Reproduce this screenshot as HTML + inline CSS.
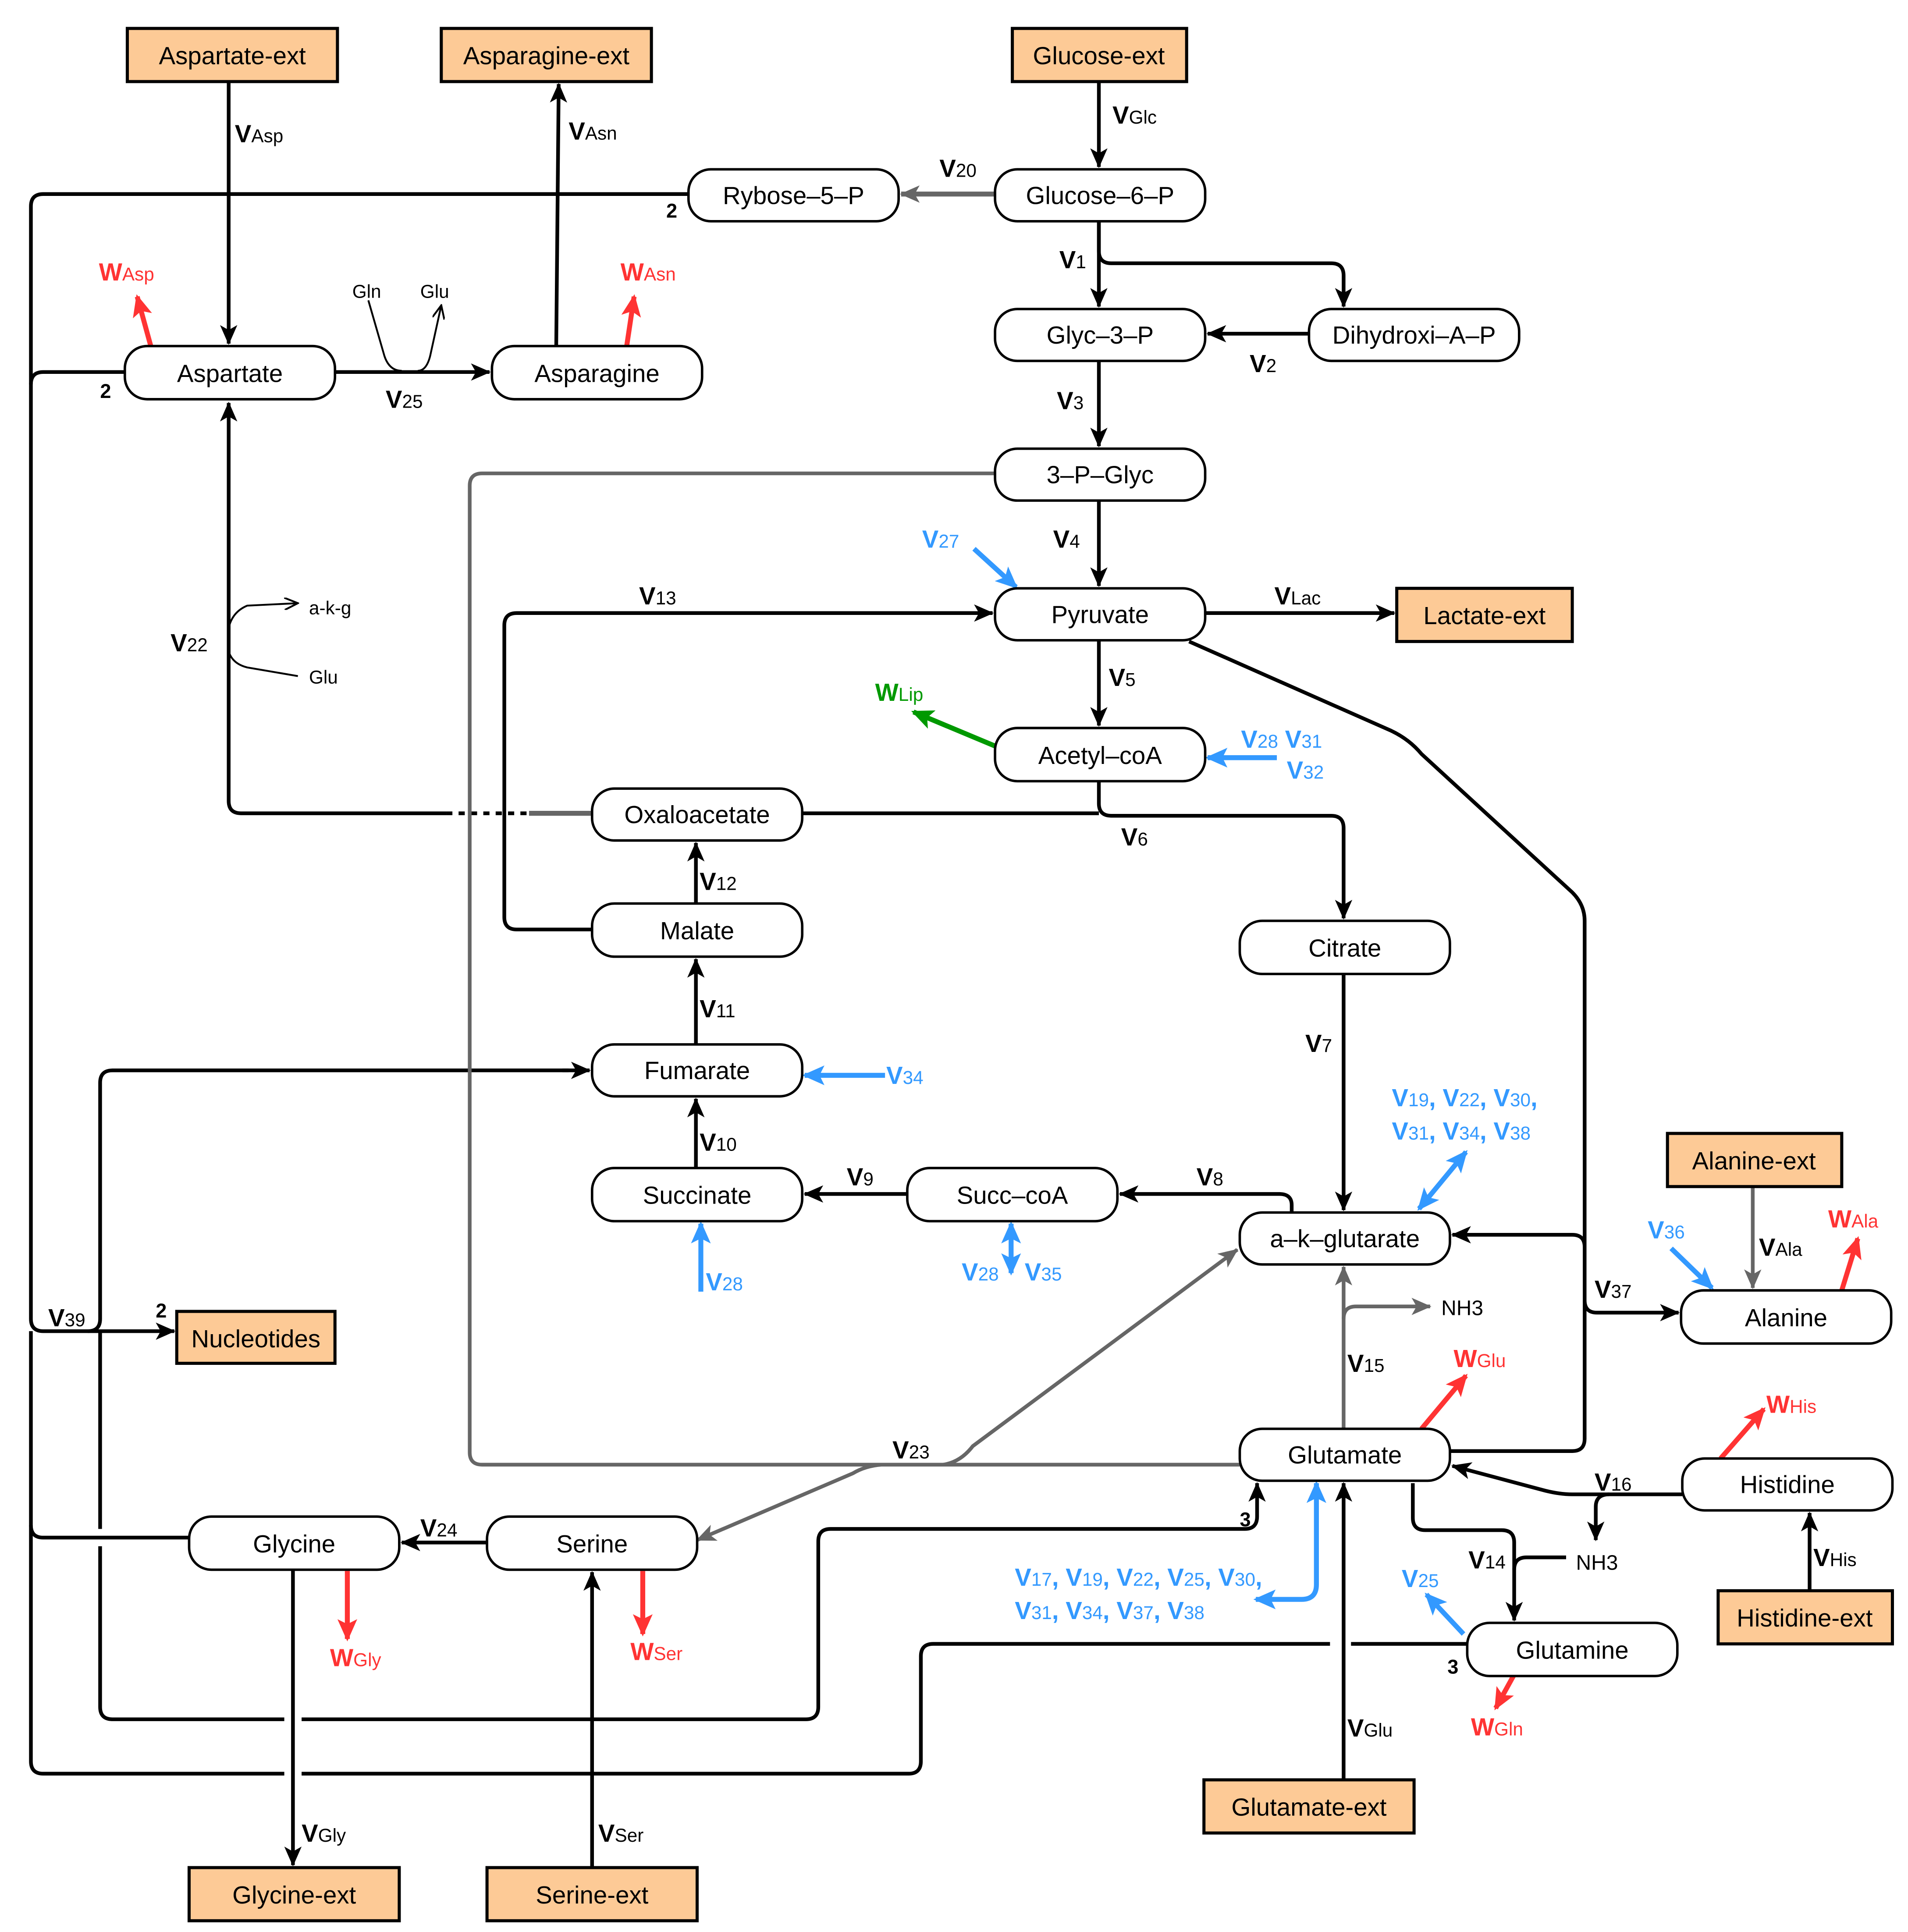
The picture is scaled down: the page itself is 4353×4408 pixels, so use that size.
<!DOCTYPE html>
<html><head><meta charset="utf-8"><style>
html,body{margin:0;padding:0;background:#fff}
svg{display:block}
text{font-family:"Liberation Sans",Arial,sans-serif}
.n{font-size:20px;text-anchor:middle}
.l{font-size:20px;font-weight:bold}
.s{font-size:15px;font-weight:normal}
.sm{font-size:15px}
</style></head><body>
<svg xmlns="http://www.w3.org/2000/svg" width="4353" height="4408" viewBox="0 0 1543.6 1563.1" preserveAspectRatio="none">
<defs>
<marker id="ak" markerUnits="userSpaceOnUse" markerWidth="16" markerHeight="14" refX="15" refY="7" orient="auto-start-reverse"><path d="M0,0 L16,7 L0,14 L4,7 z" fill="#000"/></marker>
<marker id="ag" markerUnits="userSpaceOnUse" markerWidth="16" markerHeight="14" refX="15" refY="7" orient="auto-start-reverse"><path d="M0,0 L16,7 L0,14 L4,7 z" fill="#666"/></marker>
<marker id="ab" markerUnits="userSpaceOnUse" markerWidth="18" markerHeight="16" refX="16" refY="8" orient="auto-start-reverse"><path d="M0,0 L18,8 L0,16 L4,8 z" fill="#3399ff"/></marker>
<marker id="ar" markerUnits="userSpaceOnUse" markerWidth="18" markerHeight="16" refX="16" refY="8" orient="auto-start-reverse"><path d="M0,0 L18,8 L0,16 L4,8 z" fill="#ff3333"/></marker>
<marker id="an" markerUnits="userSpaceOnUse" markerWidth="18" markerHeight="16" refX="16" refY="8" orient="auto-start-reverse"><path d="M0,0 L18,8 L0,16 L4,8 z" fill="#009900"/></marker>
<marker id="as" markerUnits="userSpaceOnUse" markerWidth="12" markerHeight="10" refX="11" refY="5" orient="auto"><path d="M0,0 L11,5 L0,10" fill="none" stroke="#000" stroke-width="1.5"/></marker>
</defs>

<g fill="none" stroke="#000" stroke-width="3">
<path d="M557,157 H35 Q25,157 25,167 V1067 Q25,1077 35,1077 H141" marker-end="url(#ak)"/>
<path d="M101,301 H35 Q25,301 25,311"/>
<path d="M25,1077 Q25,1087 25,1090 V1425 Q25,1435 35,1435 H230"/>
<path d="M244,1435 H735 Q745,1435 745,1425 V1340 Q745,1330 755,1330 H1076"/>
<path d="M1093,1330 H1187"/>
<path d="M153,1244 H35 Q25,1244 25,1234"/>
<path d="M460,866 H91 Q81,866 81,876 V1067 Q81,1077 71,1077"/>
<path d="M81,1077 Q81,1087 81,1090 V1237"/>
<path d="M81,1251 V1381 Q81,1391 91,1391 H230"/>
<path d="M244,1391 H652 Q662,1391 662,1381 V1247 Q662,1237 672,1237 H1007 Q1017,1237 1017,1227 V1200" marker-end="url(#ak)"/>
<path d="M455,866 H477" marker-end="url(#ak)"/>

<path d="M185,66 V278" marker-end="url(#ak)"/>
<path d="M450,280 L452,68" marker-end="url(#ak)"/>
<path d="M889,66 V135" marker-end="url(#ak)"/>
<path d="M889,179 V248" marker-end="url(#ak)"/>
<path d="M889,179 V203 Q889,213 899,213 H1077 Q1087,213 1087,223 V248" marker-end="url(#ak)"/>
<path d="M1059,270 H977" marker-end="url(#ak)"/>
<path d="M889,292 V361" marker-end="url(#ak)"/>
<path d="M889,405 V474" marker-end="url(#ak)"/>
<path d="M271,301 H396" marker-end="url(#ak)"/>
<path d="M479,752 H418 Q408,752 408,742 V506 Q408,496 418,496 H803" marker-end="url(#ak)"/>
<path d="M975,496 H1128" marker-end="url(#ak)"/>
<path d="M889,518 V587" marker-end="url(#ak)"/>
<path d="M962,519 L1125,591 Q1140,598 1150,610 L1272,722 Q1282,732 1282,745 V1164 Q1282,1174 1272,1174 H1173"/>
<path d="M1282,1009 Q1282,999 1272,999 H1175" marker-end="url(#ak)"/>
<path d="M1282,1052 Q1282,1062 1292,1062 H1358" marker-end="url(#ak)"/>
<path d="M889,632 V650 Q889,660 899,660 H1077 Q1087,660 1087,670 V743" marker-end="url(#ak)"/>
<path d="M649,658 H889"/>
<path d="M361,658 H195 Q185,658 185,648 V326" marker-end="url(#ak)"/>
<path d="M361,658 H428" stroke-dasharray="5,5"/>
<path d="M563,731 V682" marker-end="url(#ak)"/>
<path d="M563,845 V776" marker-end="url(#ak)"/>
<path d="M563,945 V889" marker-end="url(#ak)"/>
<path d="M734,966 H651" marker-end="url(#ak)"/>
<path d="M1045,981 V975 Q1045,966 1035,966 H906" marker-end="url(#ak)"/>
<path d="M1087,788 V979" marker-end="url(#ak)"/>
<path d="M1464,1287 V1224" marker-end="url(#ak)"/>
<path d="M1361,1209 H1272 Q1262,1209 1250,1206 L1175,1186" marker-end="url(#ak)"/>
<path d="M1302,1209 Q1291,1209 1291,1219 V1246" marker-end="url(#ak)"/>
<path d="M1143,1200 V1228 Q1143,1238 1153,1238 H1215 Q1225,1238 1225,1248 V1311" marker-end="url(#ak)"/>
<path d="M1267,1260 H1235 Q1225,1260 1225,1270"/>
<path d="M1087,1440 V1200" marker-end="url(#ak)"/>
<path d="M394,1248 H325" marker-end="url(#ak)"/>
<path d="M237,1270 V1509" marker-end="url(#ak)"/>
<path d="M479,1511 V1272" marker-end="url(#ak)"/>
</g>
<g fill="none" stroke="#000" stroke-width="1.5">
<path d="M298,243 L311,288 Q315,300 325,300"/>
<path d="M338,300 Q345,300 348,288 L357,247" marker-end="url(#as)"/>
<path d="M185,508 Q188,495 200,490 L241,488" marker-end="url(#as)"/>
<path d="M185,527 Q188,537 200,540 L241,547"/>
</g>

<g fill="none" stroke="#666" stroke-width="3">
<path d="M805,157 H729" stroke-width="4" marker-end="url(#ag)"/>
<path d="M805,383 H390 Q380,383 380,393 V1175 Q380,1185 390,1185 H1003"/>
<path d="M428,658 H479" stroke-width="4"/>
<path d="M763,1185 Q777,1183 787,1170 L1001,1011" marker-end="url(#ag)"/>
<path d="M713,1185 Q700,1186 690,1192 L564,1246" marker-end="url(#ag)"/>
<path d="M1087,1156 V1025" marker-end="url(#ag)"/>
<path d="M1087,1067 Q1087,1057 1097,1057 H1157" marker-end="url(#ag)"/>
<path d="M1418,960 V1042" marker-end="url(#ag)"/>
</g>

<g fill="none" stroke="#3399ff" stroke-width="4">
<path d="M788,444 L822,475" marker-end="url(#ab)"/>
<path d="M1033,613 H977" marker-end="url(#ab)"/>
<path d="M716,870 H651" marker-end="url(#ab)"/>
<path d="M567,1045 V990" marker-end="url(#ab)"/>
<path d="M818,990 V1030" marker-start="url(#ab)" marker-end="url(#ab)"/>
<path d="M1148,978 L1186,932" marker-start="url(#ab)" marker-end="url(#ab)"/>
<path d="M1065,1200 V1282 Q1065,1294 1053,1294 H1016" marker-start="url(#ab)" marker-end="url(#ab)"/>
<path d="M1184,1322 L1154,1290" marker-end="url(#ab)"/>
<path d="M1352,1010 L1385,1042" marker-end="url(#ab)"/>
</g>
<g fill="none" stroke="#ff3333" stroke-width="4">
<path d="M122,280 L111,240" marker-end="url(#ar)"/>
<path d="M507,280 L513,240" marker-end="url(#ar)"/>
<path d="M1150,1156 L1186,1113" marker-end="url(#ar)"/>
<path d="M1490,1044 L1503,1002" marker-end="url(#ar)"/>
<path d="M1392,1180 L1427,1140" marker-end="url(#ar)"/>
<path d="M1226,1353 L1210,1382" marker-end="url(#ar)"/>
<path d="M281,1271 V1326" marker-end="url(#ar)"/>
<path d="M520,1271 V1322" marker-end="url(#ar)"/>
</g>
<path d="M806,604 L739,576" fill="none" stroke="#009900" stroke-width="4" marker-end="url(#an)"/>

<g fill="#fdca96" stroke="#000" stroke-width="2.5">
<rect x="103" y="23" width="170" height="43"/>
<rect x="357" y="23" width="170" height="43"/>
<rect x="819" y="23" width="141" height="43"/>
<rect x="1130" y="476" width="142" height="43"/>
<rect x="1349" y="917" width="141" height="43"/>
<rect x="143" y="1061" width="128" height="42"/>
<rect x="1390" y="1287" width="141" height="43"/>
<rect x="974" y="1440" width="170" height="43"/>
<rect x="153" y="1511" width="170" height="43"/>
<rect x="394" y="1511" width="170" height="43"/>
</g>
<g fill="#fff" stroke="#000" stroke-width="2">
<rect x="557" y="137" width="170" height="42" rx="18"/>
<rect x="805" y="137" width="170" height="42" rx="18"/>
<rect x="805" y="250" width="170" height="42" rx="18"/>
<rect x="1059" y="250" width="170" height="42" rx="18"/>
<rect x="805" y="363" width="170" height="42" rx="18"/>
<rect x="805" y="476" width="170" height="42" rx="18"/>
<rect x="805" y="589" width="170" height="43" rx="18"/>
<rect x="101" y="280" width="170" height="43" rx="18"/>
<rect x="398" y="280" width="170" height="43" rx="18"/>
<rect x="479" y="638" width="170" height="42" rx="18"/>
<rect x="479" y="731" width="170" height="43" rx="18"/>
<rect x="479" y="845" width="170" height="42" rx="18"/>
<rect x="479" y="945" width="170" height="43" rx="18"/>
<rect x="734" y="945" width="170" height="43" rx="18"/>
<rect x="1003" y="745" width="170" height="43" rx="18"/>
<rect x="1003" y="981" width="170" height="42" rx="18"/>
<rect x="1360" y="1044" width="170" height="43" rx="18"/>
<rect x="1003" y="1156" width="170" height="42" rx="18"/>
<rect x="1361" y="1180" width="170" height="42" rx="18"/>
<rect x="1187" y="1313" width="170" height="43" rx="18"/>
<rect x="153" y="1227" width="170" height="43" rx="18"/>
<rect x="394" y="1227" width="170" height="43" rx="18"/>
</g>
<g class="n">
<text class="n" x="188" y="52">Aspartate-ext</text>
<text class="n" x="442" y="52">Asparagine-ext</text>
<text class="n" x="889" y="52">Glucose-ext</text>
<text class="n" x="1201" y="505">Lactate-ext</text>
<text class="n" x="1419" y="946">Alanine-ext</text>
<text class="n" x="207" y="1090">Nucleotides</text>
<text class="n" x="1460" y="1316">Histidine-ext</text>
<text class="n" x="1059" y="1469">Glutamate-ext</text>
<text class="n" x="238" y="1540">Glycine-ext</text>
<text class="n" x="479" y="1540">Serine-ext</text>
<text class="n" x="642" y="165">Rybose–5–P</text>
<text class="n" x="890" y="165">Glucose–6–P</text>
<text class="n" x="890" y="278">Glyc–3–P</text>
<text class="n" x="1144" y="278">Dihydroxi–A–P</text>
<text class="n" x="890" y="391">3–P–Glyc</text>
<text class="n" x="890" y="504">Pyruvate</text>
<text class="n" x="890" y="618">Acetyl–coA</text>
<text class="n" x="186" y="309">Aspartate</text>
<text class="n" x="483" y="309">Asparagine</text>
<text class="n" x="564" y="666">Oxaloacetate</text>
<text class="n" x="564" y="760">Malate</text>
<text class="n" x="564" y="873">Fumarate</text>
<text class="n" x="564" y="974">Succinate</text>
<text class="n" x="819" y="974">Succ–coA</text>
<text class="n" x="1088" y="774">Citrate</text>
<text class="n" x="1088" y="1009">a–k–glutarate</text>
<text class="n" x="1445" y="1073">Alanine</text>
<text class="n" x="1088" y="1184">Glutamate</text>
<text class="n" x="1446" y="1208">Histidine</text>
<text class="n" x="1272" y="1342">Glutamine</text>
<text class="n" x="238" y="1256">Glycine</text>
<text class="n" x="479" y="1256">Serine</text>
</g>

<g class="l">
<text class="l" x="190" y="115">V<tspan class="s">Asp</tspan></text>
<text class="l" x="460" y="113">V<tspan class="s">Asn</tspan></text>
<text class="l" x="900" y="100">V<tspan class="s">Glc</tspan></text>
<text class="l" x="760" y="143">V<tspan class="s">20</tspan></text>
<text class="l" x="857" y="217">V<tspan class="s">1</tspan></text>
<text class="l" x="1011" y="301">V<tspan class="s">2</tspan></text>
<text class="l" x="855" y="331">V<tspan class="s">3</tspan></text>
<text class="l" x="852" y="443">V<tspan class="s">4</tspan></text>
<text class="l" x="897" y="555">V<tspan class="s">5</tspan></text>
<text class="l" x="907" y="684">V<tspan class="s">6</tspan></text>
<text class="l" x="1056" y="851">V<tspan class="s">7</tspan></text>
<text class="l" x="968" y="959">V<tspan class="s">8</tspan></text>
<text class="l" x="685" y="959">V<tspan class="s">9</tspan></text>
<text class="l" x="566" y="931">V<tspan class="s">10</tspan></text>
<text class="l" x="566" y="823">V<tspan class="s">11</tspan></text>
<text class="l" x="566" y="720">V<tspan class="s">12</tspan></text>
<text class="l" x="517" y="489">V<tspan class="s">13</tspan></text>
<text class="l" x="1090" y="1110">V<tspan class="s">15</tspan></text>
<text class="l" x="1188" y="1269">V<tspan class="s">14</tspan></text>
<text class="l" x="1290" y="1206">V<tspan class="s">16</tspan></text>
<text class="l" x="138" y="527">V<tspan class="s">22</tspan></text>
<text class="l" x="722" y="1180">V<tspan class="s">23</tspan></text>
<text class="l" x="340" y="1243">V<tspan class="s">24</tspan></text>
<text class="l" x="312" y="330">V<tspan class="s">25</tspan></text>
<text class="l" x="1290" y="1050">V<tspan class="s">37</tspan></text>
<text class="l" x="39" y="1073">V<tspan class="s">39</tspan></text>
<text class="l" x="1031" y="489">V<tspan class="s">Lac</tspan></text>
<text class="l" x="1423" y="1016">V<tspan class="s">Ala</tspan></text>
<text class="l" x="1467" y="1267">V<tspan class="s">His</tspan></text>
<text class="l" x="1090" y="1405">V<tspan class="s">Glu</tspan></text>
<text class="l" x="244" y="1490">V<tspan class="s">Gly</tspan></text>
<text class="l" x="484" y="1490">V<tspan class="s">Ser</tspan></text>
<text class="l" x="539" y="176" style="font-size:16px">2</text>
<text class="l" x="81" y="322" style="font-size:16px">2</text>
<text class="l" x="126" y="1066" style="font-size:16px">2</text>
<text class="l" x="1003" y="1235" style="font-size:16px">3</text>
<text class="l" x="1171" y="1354" style="font-size:16px">3</text>
</g>
<g class="sm">
<text class="sm" x="285" y="241">Gln</text>
<text class="sm" x="340" y="241">Glu</text>
<text class="sm" x="250" y="497">a-k-g</text>
<text class="sm" x="250" y="553">Glu</text>
<text x="1166" y="1064" style="font-size:17px">NH3</text>
<text x="1275" y="1270" style="font-size:17px">NH3</text>
</g>

<g class="l" fill="#3399ff">
<text class="l" x="746" y="443">V<tspan class="s">27</tspan></text>
<text class="l" x="1004" y="605">V<tspan class="s">28</tspan> V<tspan class="s">31</tspan></text>
<text class="l" x="1041" y="630">V<tspan class="s">32</tspan></text>
<text class="l" x="717" y="877">V<tspan class="s">34</tspan></text>
<text class="l" x="571" y="1044">V<tspan class="s">28</tspan></text>
<text class="l" x="778" y="1036">V<tspan class="s">28</tspan></text>
<text class="l" x="829" y="1036">V<tspan class="s">35</tspan></text>
<text class="l" x="1126" y="895">V<tspan class="s">19</tspan>, V<tspan class="s">22</tspan>, V<tspan class="s">30</tspan>,</text>
<text class="l" x="1126" y="922">V<tspan class="s">31</tspan>, V<tspan class="s">34</tspan>,  V<tspan class="s">38</tspan></text>
<text class="l" x="1333" y="1002">V<tspan class="s">36</tspan></text>
<text class="l" x="1134" y="1284">V<tspan class="s">25</tspan></text>
<text class="l" x="821" y="1283">V<tspan class="s">17</tspan>, V<tspan class="s">19</tspan>, V<tspan class="s">22</tspan>, V<tspan class="s">25</tspan>, V<tspan class="s">30</tspan>,</text>
<text class="l" x="821" y="1310">V<tspan class="s">31</tspan>, V<tspan class="s">34</tspan>, V<tspan class="s">37</tspan>, V<tspan class="s">38</tspan></text>
</g>
<g class="l" fill="#ff3333">
<text class="l" x="80" y="227">W<tspan class="s">Asp</tspan></text>
<text class="l" x="502" y="227">W<tspan class="s">Asn</tspan></text>
<text class="l" x="1176" y="1106">W<tspan class="s">Glu</tspan></text>
<text class="l" x="1479" y="993">W<tspan class="s">Ala</tspan></text>
<text class="l" x="1429" y="1143">W<tspan class="s">His</tspan></text>
<text class="l" x="1190" y="1404">W<tspan class="s">Gln</tspan></text>
<text class="l" x="267" y="1348">W<tspan class="s">Gly</tspan></text>
<text class="l" x="510" y="1343">W<tspan class="s">Ser</tspan></text>
</g>
<text class="l" x="708" y="567" fill="#009900">W<tspan class="s">Lip</tspan></text>
</svg>
</body></html>
